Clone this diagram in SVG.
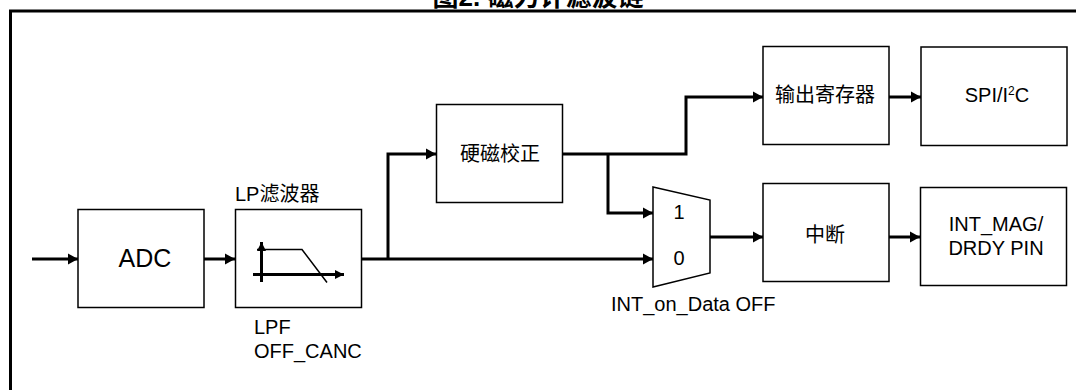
<svg xmlns="http://www.w3.org/2000/svg" width="1076" height="390" viewBox="0 0 1076 390">
<style>
.box{fill:#fff;stroke:#000;stroke-width:1.5}
.t{font-family:"Liberation Sans","Noto Sans CJK SC",sans-serif;font-size:20px;fill:#000}
.c{text-anchor:middle}
.w{fill:none;stroke:#000;stroke-width:3}
</style>
<defs>
<marker id="arr" markerUnits="userSpaceOnUse" markerWidth="12" markerHeight="12" refX="10" refY="6" orient="auto"><path d="M0,0.5 L10,6 L0,11.5 z" fill="#000"/></marker>
<marker id="arrs" markerUnits="userSpaceOnUse" markerWidth="10" markerHeight="10" refX="9" refY="5" orient="auto"><path d="M0,0.5 L9,5 L0,9.5 z" fill="#000"/></marker>
</defs>
<rect width="1076" height="390" fill="#fff"/>
<text class="t c" x="538" y="6" style="font-size:26px;font-weight:bold">图2. 磁力计滤波链</text>
<rect x="10.5" y="11" width="1080" height="400" fill="none" stroke="#000" stroke-width="3"/>
<g id="connectors" class="w">
<path class="w" d="M32,259 H78" marker-end="url(#arr)"/>
<path class="w" d="M204,259 H235" marker-end="url(#arr)"/>
<path class="w" d="M362,259 H653" marker-end="url(#arr)"/>
<path class="w" d="M388,259 V154 H436" marker-end="url(#arr)"/>
<path class="w" d="M563,154 H686 V97 H763" marker-end="url(#arr)"/>
<path class="w" d="M608,154 V213 H653" marker-end="url(#arr)"/>
<path class="w" d="M889,97 H921" marker-end="url(#arr)"/>
<path class="w" d="M710,237 H763" marker-end="url(#arr)"/>
<path class="w" d="M889,237 H920" marker-end="url(#arr)"/>
</g>
<g id="adc">
<rect class="box" x="78" y="209.5" width="126" height="98"/>
<text class="t c" x="145" y="267" style="font-size:25px">ADC</text>
</g>
<g id="lpf">
<text class="t" x="235" y="201">LP滤波器</text>
<rect class="box" x="235.5" y="209.5" width="126" height="98"/>
<path class="w" d="M261.5,282 V242" marker-end="url(#arrs)"/>
<path class="w" d="M253,274.5 H344" marker-end="url(#arrs)"/>
<polyline points="257,249.5 302,249.5 327,282.5" fill="none" stroke="#000" stroke-width="1.5"/>
<text class="t" x="254" y="334">LPF</text>
<text class="t" x="254" y="358">OFF_CANC</text>
</g>
<g id="hardiron">
<rect class="box" x="436.5" y="104.5" width="126" height="98"/>
<text class="t c" x="500" y="161">硬磁校正</text>
</g>
<g id="mux">
<polygon class="box" points="653,187 710,200 710,273 653,287"/>
<text class="t c" x="679" y="219">1</text>
<text class="t c" x="679" y="265">0</text>
<text class="t" x="611" y="311">INT_on_Data OFF</text>
</g>
<g id="outreg">
<rect class="box" x="763" y="46.5" width="126" height="98"/>
<text class="t c" x="825" y="102">输出寄存器</text>
</g>
<g id="spi">
<rect class="box" x="921" y="47" width="146" height="98.5"/>
<text class="t c" x="997" y="102">SPI/I<tspan style="font-size:12px" dy="-7">2</tspan><tspan dy="7">C</tspan></text>
</g>
<g id="int">
<rect class="box" x="763" y="183.5" width="126" height="98"/>
<text class="t c" x="825" y="242">中断</text>
</g>
<g id="pin">
<rect class="box" x="920.5" y="187.5" width="146" height="98"/>
<text class="t c" x="996" y="231">INT_MAG/</text>
<text class="t c" x="996" y="255">DRDY PIN</text>
</g>
</svg>
